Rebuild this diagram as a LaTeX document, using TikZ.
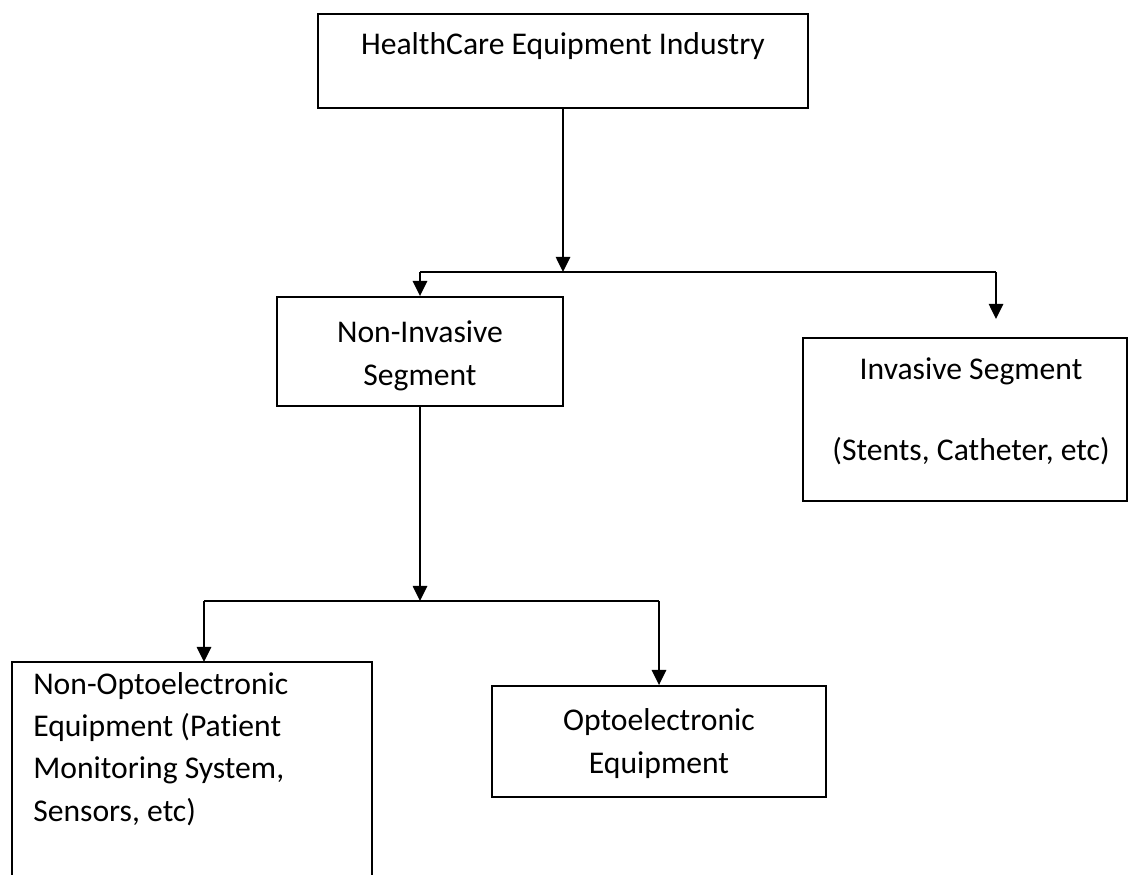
\documentclass[tikz,border=0pt]{standalone}
\usepackage{fontspec}
\setmainfont{Carlito}[Ligatures=NoCommon]
\usetikzlibrary{arrows.meta,positioning}

\begin{document}
\begin{tikzpicture}
      [x=0.025cm, y=-0.025cm,
      box style/.style={draw, rectangle, inner sep=0pt, line width=1.3pt},
      text style/.style={inner sep=0pt, align=center, anchor=base, font=\fontsize{22.5}{29.9}\selectfont},
      arrow style/.style={draw, line width=1.4pt, -{Triangle[width=0.36cm, length=0.38cm]}},
      line style/.style={draw, line width=1.4pt},
      ]
    \useasboundingbox (0,0) rectangle (1129,874);

    \node[box style, minimum width=12.25cm, minimum height=2.35cm] (industry) at (563,61) {};
    \node[box style, minimum width=7.15cm, minimum height=2.725cm] (noninvasive) at (420,351.5) {};
    \node[box style, minimum width=8.1cm, minimum height=4.075cm] (invasive) at (965,419.5) {};
    \node[box style, minimum width=9cm, minimum height=5.95cm] (nonopto) at (192,781) {};
    \node[box style, minimum width=8.35cm, minimum height=2.775cm] (opto) at (659,741.5) {};

    \node[text style] (industry text) at (563,55) {HealthCare Equipment Industry};
    \node[text style] (noninvasive text) at (420,385) {Non-Invasive\\Segment};
    \node[text style] (invasive text) at (971,460) {Invasive Segment\\[27pt](Stents, Catheter, etc)};
    \node[text style, align=left, anchor=base west] (nonopto text) at (33,821)
      {Non-Optoelectronic\\Equipment (Patient\\Monitoring System,\\Sensors, etc)};
    \node[text style] (opto text) at (659,773) {Optoelectronic\\Equipment};

    \coordinate (split top) at (563,272);
    \coordinate (invasive tip) at (996,319);
    \coordinate (split bottom) at (420,601);
    \coordinate (nonopto top) at (204,662);

    \draw[arrow style] (industry.south) -- (split top);
    \draw[line style] (split top -| noninvasive.north) -- (split top -| invasive tip);
    \draw[arrow style] (split top -| noninvasive.north) -- (noninvasive.north);
    \draw[arrow style] (split top -| invasive tip) -- (invasive tip);

    \draw[arrow style] (noninvasive.south) -- (split bottom);
    \draw[line style] (split bottom -| nonopto top) -- (split bottom -| opto.north);
    \draw[arrow style] (split bottom -| nonopto top) -- (nonopto top);
    \draw[arrow style] (split bottom -| opto.north) -- (opto.north);
\end{tikzpicture}
\end{document}
